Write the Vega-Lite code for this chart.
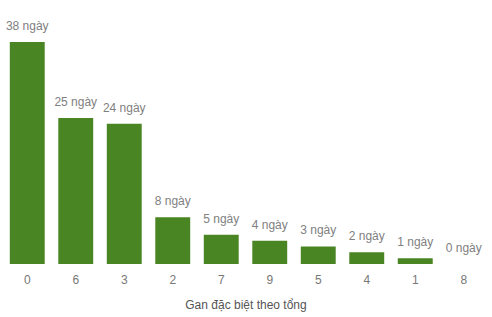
{
  "$schema": "https://vega.github.io/schema/vega-lite/v6.json",
  "autosize": "none",
  "width": 485,
  "height": 222,
  "padding": {"left": 3, "top": 42, "right": 4, "bottom": 53},
  "background": "white",
  "config": {"view": {"stroke": null}, "font": "Liberation Sans"},
  "data": {"values": [
    {"tong": "0", "ngay": 38, "label": "38 ngày"},
    {"tong": "6", "ngay": 25, "label": "25 ngày"},
    {"tong": "3", "ngay": 24, "label": "24 ngày"},
    {"tong": "2", "ngay": 8, "label": "8 ngày"},
    {"tong": "7", "ngay": 5, "label": "5 ngày"},
    {"tong": "9", "ngay": 4, "label": "4 ngày"},
    {"tong": "5", "ngay": 3, "label": "3 ngày"},
    {"tong": "4", "ngay": 2, "label": "2 ngày"},
    {"tong": "1", "ngay": 1, "label": "1 ngày"},
    {"tong": "8", "ngay": 0, "label": "0 ngày"}
  ]},
  "encoding": {
    "x": {"field": "tong", "type": "nominal", "sort": null,
      "scale": {"paddingInner": 0.28, "paddingOuter": 0.14},
      "axis": {"title": "Gan đặc biệt theo tổng", "labelAngle": 0, "domain": false, "ticks": false,
        "labelPadding": 10, "labelFontSize": 12, "labelColor": "#777777", "titleFontSize": 12,
        "titleFontWeight": "normal", "titleColor": "#555555", "titlePadding": 14}},
    "y": {"field": "ngay", "type": "quantitative", "scale": {"domain": [0, 38]}, "axis": null}
  },
  "layer": [
    {"mark": {"type": "bar", "color": "#4a8523"}},
    {"mark": {"type": "text", "baseline": "bottom", "dy": -9, "fontSize": 12, "color": "#808080"},
     "encoding": {"text": {"field": "label"}}}
  ]
}
